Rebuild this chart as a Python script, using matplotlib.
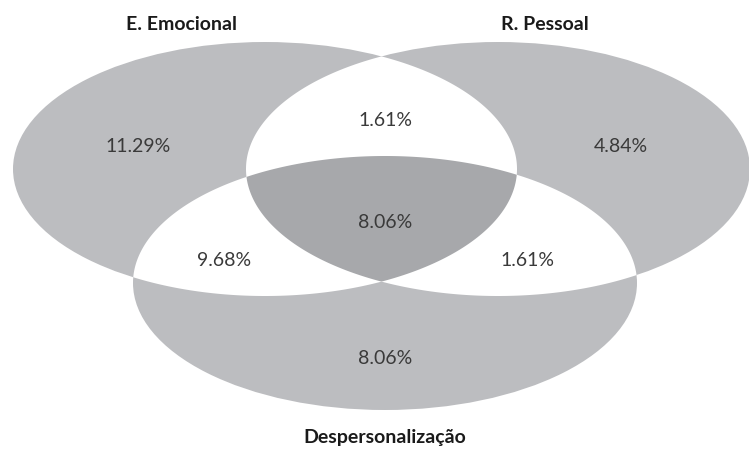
import numpy as np
import matplotlib.pyplot as plt
from matplotlib.patches import Ellipse, Polygon

plt.rcParams['font.family'] = ['Lato', 'DejaVu Sans']

# data
sets = ['E. Emocional', 'R. Pessoal', 'Despersonalização']
only_vals = [11.29, 4.84, 8.06]          # E only, R only, D only
pair_vals = [1.61, 9.68, 1.61]           # E&R, E&D, R&D
all_val = 8.06                           # E&R&D

# geometry (pixel coords of the figure)
centers = [(265, 169), (498, 169), (385, 283)]
a, b = 252, 127
light = '#bcbdc0'
dark = '#a7a8ab'
txt = '#3a3a3a'


def inside(pts, c):
    return ((pts[:, 0] - c[0]) / a) ** 2 + ((pts[:, 1] - c[1]) / b) ** 2 <= 1.0 + 1e-9


def boundary(c, n=2000):
    t = np.linspace(0, 2 * np.pi, n, endpoint=False)
    return np.column_stack([c[0] + a * np.cos(t), c[1] + b * np.sin(t)])


def region(idx):
    # intersection of convex ellipses -> convex polygon
    pts = []
    for i in idx:
        p = boundary(centers[i])
        keep = np.ones(len(p), bool)
        for j in idx:
            if j != i:
                keep &= inside(p, centers[j])
        pts.append(p[keep])
    pts = np.vstack(pts)
    m = pts.mean(axis=0)
    ang = np.arctan2(pts[:, 1] - m[1], pts[:, 0] - m[0])
    return pts[np.argsort(ang)]


fig = plt.figure(figsize=(7.49, 4.49), dpi=100)
ax = fig.add_axes([0, 0, 1, 1])
ax.set_xlim(0, 749)
ax.set_ylim(449, 0)
ax.axis('off')

for c in centers:
    ax.add_patch(Ellipse(c, 2 * a, 2 * b, facecolor=light, edgecolor='none'))
for pair in [(0, 1), (0, 2), (1, 2)]:
    ax.add_patch(Polygon(region(pair), closed=True, facecolor='white', edgecolor='none'))
ax.add_patch(Polygon(region((0, 1, 2)), closed=True, facecolor=dark, edgecolor='none'))

# region labels
only_pos = [(138, 146), (621, 146), (385, 358)]
pair_pos = [(385, 120), (224, 261), (527, 261)]
for v, (x, y) in zip(only_vals, only_pos):
    ax.text(x, y, f'{v:.2f}%', ha='center', va='center', fontsize=14, color=txt)
for v, (x, y) in zip(pair_vals, pair_pos):
    ax.text(x, y, f'{v:.2f}%', ha='center', va='center', fontsize=14, color=txt)
ax.text(385, 223, f'{all_val:.2f}%', ha='center', va='center', fontsize=14, color=txt)

# set names
name_pos = [(182, 25), (545, 25), (385, 438)]
for s, (x, y) in zip(sets, name_pos):
    ax.text(x, y, s, ha='center', va='center', fontsize=14, fontweight='bold', color='#1a1a1a')

fig.savefig('out.png', dpi=100)
